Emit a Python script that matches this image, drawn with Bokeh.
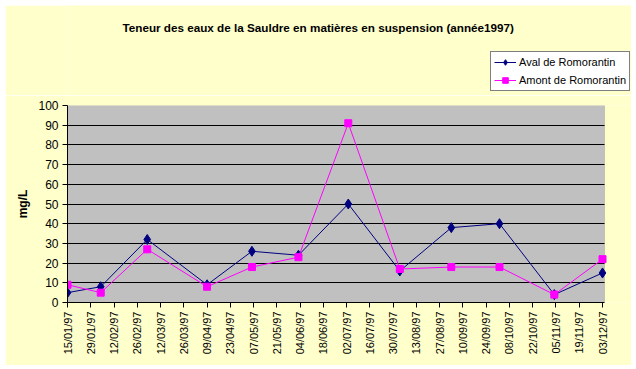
import pandas as pd
from bokeh.plotting import figure
from bokeh.layouts import column, row
from bokeh.models import (ColumnDataSource, FixedTicker, DatetimeTickFormatter,
                          Legend, LegendItem, Range1d, Spacer, Label, BoxAnnotation)
from bokeh.embed import file_html
from bokeh.resources import INLINE
import math

# ---- data ----
sample_dates = ["1997-01-15", "1997-02-04", "1997-03-04", "1997-04-09",
                "1997-05-06", "1997-06-03", "1997-07-03", "1997-08-03",
                "1997-09-03", "1997-10-02", "1997-11-04", "1997-12-03"]
aval = [5, 8, 32, 9, 26, 24, 50, 16, 38, 40, 4, 15]
amont = [9, 5, 27, 8, 18, 23, 91, 17, 18, 18, 4, 22]
tick_dates = ["1997-01-15", "1997-01-29", "1997-02-12", "1997-02-26",
              "1997-03-12", "1997-03-26", "1997-04-09", "1997-04-23",
              "1997-05-07", "1997-05-21", "1997-06-04", "1997-06-18",
              "1997-07-02", "1997-07-16", "1997-07-30", "1997-08-13",
              "1997-08-27", "1997-09-10", "1997-09-24", "1997-10-08",
              "1997-10-22", "1997-11-05", "1997-11-19", "1997-12-03"]
y_ticks = [0, 10, 20, 30, 40, 50, 60, 70, 80, 90, 100]
title_text = "Teneur des eaux de la Sauldre en matières en suspension (année1997)"
y_label = "mg/L"
series_names = ["Aval de Romorantin", "Amont de Romorantin"]

x = pd.to_datetime(sample_dates)
src = ColumnDataSource(dict(x=x, aval=aval, amont=amont))

tick_ms = [pd.Timestamp(d).value / 1e6 for d in tick_dates]
day_ms = 86400000.0
x_lo = tick_ms[0]
x_hi = tick_ms[-1] + 1.2 * day_ms
y_lo, y_hi = y_ticks[0], y_ticks[-1]

# geometry (pixels)
FIG_W = 626
BORDER_L = 62
FRAME_W = FIG_W - BORDER_L      # frame reaches the right edge of the figure
AREA_W = 537                    # grey plotting area width
frame_x_end = x_lo + (x_hi - x_lo) * FRAME_W / AREA_W

FONT = "Liberation Sans"
BG = "#FFFFCC"
BLUE = "#000080"
PINK = "#FF00FF"

# ---------------- header: title + legend ----------------
head = figure(width=FIG_W, height=90, output_backend="svg", toolbar_location=None,
              x_axis_type=None, y_axis_type=None,
              x_range=Range1d(0, 1), y_range=Range1d(0, 1),
              min_border_left=BORDER_L, min_border_right=0,
              min_border_top=0, min_border_bottom=0)
head.border_fill_color = BG
head.background_fill_color = BG
head.outline_line_color = None

title = Label(x=55, y=68, x_units="screen", y_units="screen", text=title_text,
              text_font=FONT, text_font_size="11.7px", text_font_style="bold",
              text_color="black", text_baseline="alphabetic", text_align="left")
head.add_layout(title)

# legend renderers (same data; they fall outside this header's view)
hl1 = head.line("x", "aval", source=src, line_color=BLUE, line_width=1)
hm1 = head.scatter("x", "aval", source=src, marker="diamond", size=10,
                   fill_color=BLUE, line_color=BLUE)
hl2 = head.line("x", "amont", source=src, line_color=PINK, line_width=1)
hm2 = head.scatter("x", "amont", source=src, marker="square", size=7,
                   fill_color=PINK, line_color=PINK)

legend = Legend(items=[LegendItem(label=series_names[0], renderers=[hl1, hm1]),
                       LegendItem(label=series_names[1], renderers=[hl2, hm2])],
                location=(423, 4))
legend.label_text_font = FONT
legend.label_text_font_size = "11px"
legend.label_text_color = "black"
legend.border_line_color = "black"
legend.border_line_width = 1
legend.background_fill_color = "white"
legend.background_fill_alpha = 1
legend.padding = 3
legend.margin = 0
legend.spacing = 4
legend.glyph_width = 22
legend.glyph_height = 14
legend.label_height = 14
legend.label_standoff = 3
head.add_layout(legend, "center")

# ---------------- main chart ----------------
p = figure(width=FIG_W, height=270, x_axis_type="datetime",
           output_backend="svg", toolbar_location=None,
           x_range=Range1d(x_lo, frame_x_end), y_range=Range1d(y_lo, y_hi),
           min_border_left=BORDER_L, min_border_right=0,
           min_border_top=10, min_border_bottom=63)

p.border_fill_color = BG
p.background_fill_color = BG
p.outline_line_color = None

area = BoxAnnotation(left=x_lo, right=x_hi, bottom=y_lo, top=y_hi,
                     fill_color="#C0C0C0", fill_alpha=1,
                     line_color="#808080", line_width=1, level="image")
p.add_layout(area)

xa = p.xaxis[0]
xa.bounds = (x_lo, x_hi)
xa.ticker = FixedTicker(ticks=tick_ms)
fmt = "%d/%m/%y"
xa.formatter = DatetimeTickFormatter(milliseconds=fmt, seconds=fmt, minsec=fmt,
                                     minutes=fmt, hourmin=fmt, hours=fmt,
                                     days=fmt, months=fmt, years=fmt)
xa.major_label_orientation = math.pi / 2
xa.major_label_text_font = FONT
xa.major_label_text_font_size = "11px"
xa.major_label_text_color = "black"
xa.major_tick_in = 0
xa.major_tick_out = 5
xa.minor_tick_in = 0
xa.minor_tick_out = 0
xa.major_label_standoff = 4
xa.axis_line_color = "black"
xa.major_tick_line_color = "black"

ya = p.yaxis[0]
ya.ticker = FixedTicker(ticks=y_ticks)
ya.axis_label = y_label
ya.axis_label_text_font = FONT
ya.axis_label_text_font_size = "12px"
ya.axis_label_text_font_style = "bold"
ya.axis_label_text_color = "black"
ya.axis_label_standoff = 5
ya.major_label_text_font = FONT
ya.major_label_text_font_size = "12px"
ya.major_label_text_color = "black"
ya.major_tick_in = 0
ya.major_tick_out = 5
ya.minor_tick_in = 0
ya.minor_tick_out = 0
ya.major_label_standoff = 4
ya.axis_line_color = "black"
ya.major_tick_line_color = "black"

p.xgrid.visible = False
yg = p.ygrid[0]
yg.ticker = FixedTicker(ticks=y_ticks[1:-1])
yg.grid_line_color = "black"
yg.grid_line_width = 1
if "cross_bounds" in yg.properties():
    yg.cross_bounds = (x_lo, x_hi)
else:
    yg.visible = False
    grid_src = ColumnDataSource(dict(y=y_ticks[1:-1],
                                     x0=[x_lo] * (len(y_ticks) - 2),
                                     x1=[x_hi] * (len(y_ticks) - 2)))
    p.segment("x0", "y", "x1", "y", source=grid_src, line_color="black",
              line_width=1, level="underlay")

p.line("x", "aval", source=src, line_color=BLUE, line_width=1)
p.scatter("x", "aval", source=src, marker="diamond", size=10,
          fill_color=BLUE, line_color=BLUE)
p.line("x", "amont", source=src, line_color=PINK, line_width=1)
p.scatter("x", "amont", source=src, marker="square", size=7,
          fill_color=PINK, line_color=PINK)

layout = column(Spacer(height=5), row(Spacer(width=5), column(head, p)))

open("out.html", "w").write(file_html(layout, INLINE))
